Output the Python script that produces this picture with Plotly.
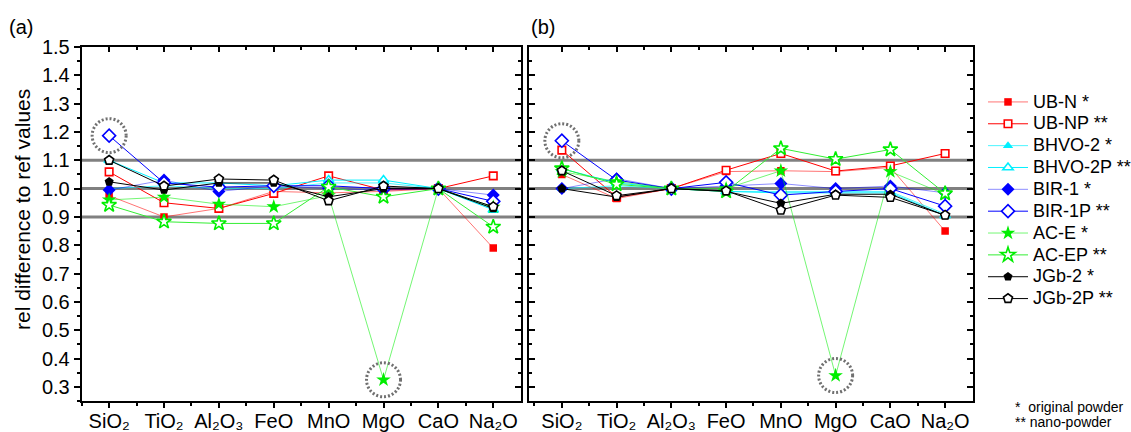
import plotly.graph_objects as go

# ---------------- data ----------------
oxides = ["SiO2", "TiO2", "Al2O3", "FeO", "MnO", "MgO", "CaO", "Na2O"]
oxide_labels = ["SiO₂", "TiO₂", "Al₂O₃", "FeO", "MnO", "MgO", "CaO", "Na₂O"]

samples = ["UB-N *", "UB-NP **", "BHVO-2 *", "BHVO-2P **", "BIR-1 *", "BIR-1P **",
           "AC-E *", "AC-EP **", "JGb-2 *", "JGb-2P **"]

# panel (a)
a_UBN    = [0.975, 0.900, 0.930, 0.990, 0.985, 0.990, 1.000, 0.790]
a_UBNP   = [1.059, 0.950, 0.930, 0.983, 1.045, 0.995, 1.000, 1.045]
a_BHVO2  = [1.000, 1.010, 1.000, 1.000, 1.020, 1.020, 1.000, 0.930]
a_BHVO2P = [1.100, 1.020, 1.020, 1.010, 1.030, 1.030, 1.000, 0.925]
a_BIR1   = [0.995, 1.030, 0.990, 1.010, 1.000, 0.995, 1.000, 0.977]
a_BIR1P  = [1.187, 1.020, 1.005, 1.010, 1.010, 1.000, 1.000, 0.955]
a_ACE    = [0.960, 0.970, 0.945, 0.936, 0.975, 0.325, 1.000, 0.935]
a_ACEP   = [0.942, 0.883, 0.877, 0.877, 1.006, 0.971, 1.000, 0.865]
a_JGb2   = [1.024, 0.995, 1.020, 1.020, 0.971, 1.000, 1.000, 0.930]
a_JGb2P  = [1.100, 1.009, 1.034, 1.030, 0.957, 1.009, 1.000, 0.936]

# panel (b)
b_UBN    = [1.050, 0.965, 1.000, 1.060, 1.063, 1.060, 1.075, 0.850]
b_UBNP   = [1.136, 0.970, 1.000, 1.065, 1.124, 1.062, 1.080, 1.124]
b_BHVO2  = [1.000, 1.010, 1.000, 0.990, 0.990, 0.990, 0.990, 0.910]
b_BHVO2P = [1.070, 1.020, 1.000, 0.990, 0.985, 0.985, 0.985, 0.905]
b_BIR1   = [1.000, 1.035, 1.000, 1.010, 1.018, 1.000, 1.009, 0.985]
b_BIR1P  = [1.169, 1.030, 1.000, 1.022, 0.977, 0.990, 1.000, 0.938]
b_ACE    = [1.060, 1.025, 1.000, 1.000, 1.063, 0.340, 1.060, 0.980]
b_ACEP   = [1.071, 1.015, 1.000, 0.990, 1.142, 1.104, 1.138, 0.983]
b_JGb2   = [1.000, 0.970, 1.000, 0.990, 0.948, 0.980, 0.980, 0.905]
b_JGb2P  = [1.063, 0.975, 1.000, 0.992, 0.924, 0.977, 0.969, 0.906]

panel_a = [a_UBN, a_UBNP, a_BHVO2, a_BHVO2P, a_BIR1, a_BIR1P, a_ACE, a_ACEP, a_JGb2, a_JGb2P]
panel_b = [b_UBN, b_UBNP, b_BHVO2, b_BHVO2P, b_BIR1, b_BIR1P, b_ACE, b_ACEP, b_JGb2, b_JGb2P]

ref_levels = [0.9, 1.0, 1.1]
# outliers highlighted with dotted circles: (panel, sample, oxide)
highlights = [("a", "BIR-1P **", "SiO2"), ("a", "AC-E *", "MgO"),
              ("b", "BIR-1P **", "SiO2"), ("b", "AC-E *", "MgO")]

# ---------------- styles ----------------
colors = ["#ff0000", "#ff0000", "#00f0ff", "#00f0ff", "#0000ff", "#0000ff",
          "#00ee00", "#00ee00", "#000000", "#000000"]
line_colors = ["rgba(255,0,0,0.55)", "#ff0000", "rgba(0,240,255,0.7)", "#00f0ff",
               "rgba(0,0,255,0.45)", "#0000ff", "rgba(0,238,0,0.55)", "#33ee33",
               "#000000", "#000000"]
symbols = ["square", "square", "triangle-up", "triangle-up", "diamond", "diamond",
           "star", "star", "pentagon", "pentagon"]
sizes = [7.5, 7.5, 9, 9, 10, 10, 11, 11, 9.5, 9.5]
filled = [True, False] * 5

W, H = 1131, 432
FONT = "Arial, Liberation Sans, sans-serif"

def fx(p):
    return p / W

def fy(p):
    return 1 - p / H

xa_dom = [fx(81.7), fx(520.7)]
xb_dom = [fx(529.0), fx(972.5)]
y_dom = [fy(401), fy(47)]
xa_range = [-0.5, 7.5]
xb_range = [-0.6, 7.5]
y_range = [0.25, 1.5]

idx = list(range(len(oxides)))

fig = go.Figure()

for panel, data, xr, yr in [("a", panel_a, "x", "y"), ("b", panel_b, "x2", "y2")]:
    for i, name in enumerate(samples):
        fig.add_trace(go.Scatter(
            x=idx, y=data[i], name='<span style="font-size:18px">' + name + '</span>',
            mode="lines+markers",
            xaxis=xr, yaxis=yr, legendgroup=name, showlegend=(panel == "a"),
            line=dict(color=line_colors[i], width=1),
            marker=dict(symbol=symbols[i], size=sizes[i],
                        color=colors[i] if filled[i] else "white",
                        line=dict(color=colors[i], width=0 if filled[i] else 1.6)),
        ))

# dummy traces for mirrored (inside-tick) axes
fig.add_trace(go.Scatter(x=[None], y=[None], xaxis="x3", yaxis="y3", showlegend=False, hoverinfo="skip"))
fig.add_trace(go.Scatter(x=[None], y=[None], xaxis="x4", yaxis="y4", showlegend=False, hoverinfo="skip"))

tickfont = dict(family=FONT, size=20, color="black")
base = dict(showline=True, linewidth=2, linecolor="black", showgrid=False, zeroline=False,
            tickcolor="black", tickwidth=1.5, tickfont=tickfont, automargin=False)

def xaxis_main(dom, rng, anchor):
    return dict(base, domain=dom, range=rng, anchor=anchor, tickmode="array", tickvals=idx,
                ticktext=oxide_labels, ticks="outside", ticklen=5, ticklabelstandoff=-4,
                minor=dict(tickmode="array", tickvals=[v + 0.5 for v in idx[:-1]] + [-0.5],
                           ticks="outside", ticklen=3, tickcolor="black", tickwidth=1.5))

def xaxis_top(over, rng, anchor):
    return dict(base, overlaying=over, side="top", range=rng, anchor=anchor, tickmode="array",
                tickvals=idx, ticks="inside", ticklen=5, showticklabels=False,
                minor=dict(tickmode="array", tickvals=[v + 0.5 for v in idx[:-1]],
                           ticks="inside", ticklen=3, tickcolor="black", tickwidth=1.5))

def yaxis(dom, anchor, ticks, labels, over=None, side="left"):
    d = dict(base, range=y_range, anchor=anchor, tickmode="linear", tick0=0, dtick=0.1,
             tickformat=".1f", ticks=ticks, ticklen=6, showticklabels=labels, side=side,
             minor=dict(dtick=0.05, tick0=0, ticks=ticks, ticklen=3, tickcolor="black", tickwidth=1.5))
    if over:
        d["overlaying"] = over
    else:
        d["domain"] = dom
    return d

fig.update_layout(
    template="none",
    width=W, height=H,
    margin=dict(l=0, r=0, t=0, b=0, autoexpand=False),
    paper_bgcolor="white", plot_bgcolor="rgba(0,0,0,0)",
    font=dict(family=FONT, color="black"),
    xaxis=xaxis_main(xa_dom, xa_range, "y"),
    xaxis2=xaxis_main(xb_dom, xb_range, "y2"),
    xaxis3=xaxis_top("x", xa_range, "y"),
    xaxis4=xaxis_top("x2", xb_range, "y2"),
    yaxis=yaxis(y_dom, "x", "outside", True),
    yaxis2=yaxis(y_dom, "x2", "inside", False),
    yaxis3=yaxis(y_dom, "x", "inside", False, over="y", side="right"),
    yaxis4=yaxis(y_dom, "x2", "inside", False, over="y2", side="right"),
    legend=dict(x=fx(983), y=fy(86), xanchor="left", yanchor="top",
                font=dict(family=FONT, size=14.5, color="black"),
                bgcolor="rgba(0,0,0,0)", borderwidth=0, tracegroupgap=0, itemwidth=40),
    showlegend=True,
)

shapes = []
for xr, yr in [("x", "y"), ("x2", "y2")]:
    for v in ref_levels:
        shapes.append(dict(type="line", xref=f"{xr} domain", x0=0, x1=1, yref=yr, y0=v, y1=v,
                           line=dict(color="#808080", width=3), layer="below"))
for panel, name, ox in highlights:
    data = panel_a if panel == "a" else panel_b
    xr, yr = ("x", "y") if panel == "a" else ("x2", "y2")
    j = oxides.index(ox)
    v = data[samples.index(name)][j]
    shapes.append(dict(type="circle", xref=xr, yref=yr, xsizemode="pixel", ysizemode="pixel",
                       xanchor=j, yanchor=v, x0=-17, x1=17, y0=-17, y1=17,
                       line=dict(color="#707070", width=3, dash="2px,2px")))
fig.update_layout(shapes=shapes)

annotations = [
    dict(text="(a)", x=fx(21), y=fy(27), xref="paper", yref="paper", showarrow=False,
         font=dict(family=FONT, size=20), xanchor="center", yanchor="middle"),
    dict(text="(b)", x=fx(543), y=fy(27), xref="paper", yref="paper", showarrow=False,
         font=dict(family=FONT, size=20), xanchor="center", yanchor="middle"),
    dict(text="rel difference to ref values", x=fx(22), y=fy(210), xref="paper", yref="paper",
         showarrow=False, textangle=-90, font=dict(family=FONT, size=21),
         xanchor="center", yanchor="middle"),
    dict(text="*  original powder", x=fx(1013), y=fy(407), xref="paper", yref="paper",
         showarrow=False, font=dict(family=FONT, size=14), xanchor="left", yanchor="middle"),
    dict(text="** nano-powder", x=fx(1013), y=fy(422), xref="paper", yref="paper",
         showarrow=False, font=dict(family=FONT, size=14), xanchor="left", yanchor="middle"),
]
fig.update_layout(annotations=annotations)

fig.write_html("out.html", config={"displayModeBar": False},
               post_script="document.body.style.margin='0';document.body.style.overflow='hidden';")
